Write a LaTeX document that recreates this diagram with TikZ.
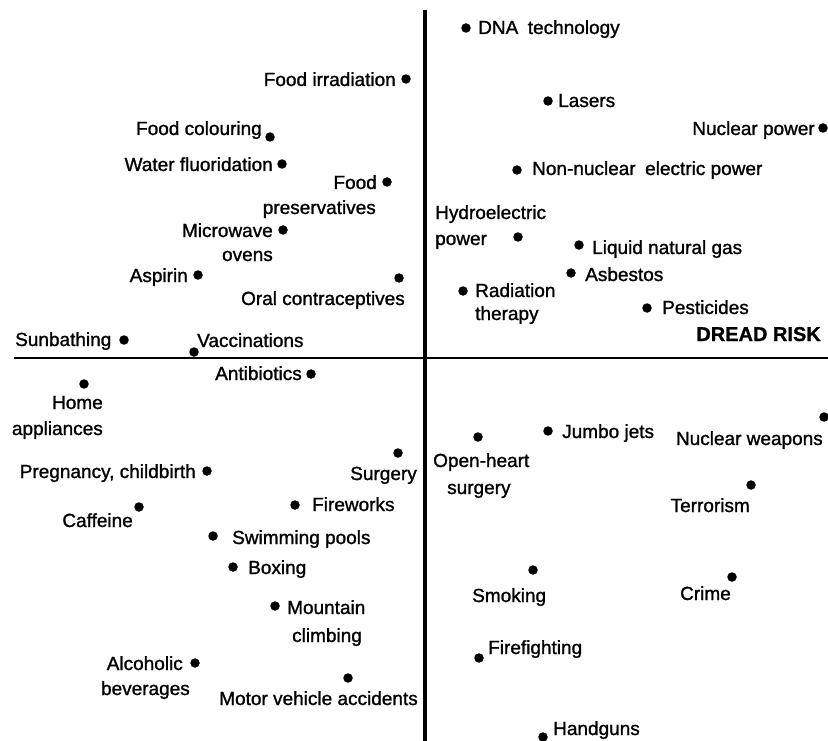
\documentclass[tikz,border=0pt]{standalone}
\usepackage{fontspec}
\setmainfont{Liberation Sans}
\newfontfamily\labfont[FakeBold=1.2]{Liberation Sans}
\newfontfamily\dreadfont[FakeBold=1.0]{Liberation Sans Bold}
\begin{document}
\begin{tikzpicture}[x=1pt,y=-1pt,
  dot/.style={circle,fill=black,inner sep=0pt,minimum size=9.5pt},
  lab/.style={inner sep=0pt,font=\labfont\fontsize{19}{22}\selectfont},
  lw/.style={lab,anchor=base west},
  le/.style={lab,anchor=base east},
  axis/.style={line width=3.2pt,black}]
\useasboundingbox[fill=white] (0,0) rectangle (828,741);
% axes
\coordinate (vtop) at (425,10);
\coordinate (vbot) at (425,741);
\coordinate (hl) at (14,358);
\coordinate (hr) at (828,358);
\draw[axis] (vtop) -- (vbot);
\draw[axis,line width=2.8pt] (hl) -- (hr);
% upper left
\node[dot] (fi) at (406,79) {};   \node[le] (fiL) at (396,86) {Food irradiation};
\node[dot] (fc) at (270,137) {};  \node[le] (fcL) at (262,135) {Food colouring};
\node[dot] (wf) at (282,164) {};  \node[le] (wfL) at (273,171) {Water fluoridation};
\node[dot] (fp) at (387,182) {};  \node[le] (fpL1) at (377,189) {Food};
                                  \node[le] (fpL2) at (376,214) {preservatives};
\node[dot] (mw) at (283,230) {};  \node[le] (mwL1) at (273,237) {Microwave};
                                  \node[le] (mwL2) at (273,261) {ovens};
\node[dot] (as) at (198,275) {};  \node[le] (asL) at (188,282) {Aspirin};
\node[dot] (oc) at (399,278) {};  \node[le] (ocL) at (405,305) {Oral contraceptives};
\node[dot] (sb) at (124,340) {};  \node[lw] (sbL) at (15,346) {Sunbathing};
\node[dot] (va) at (194,352) {};  \node[lw] (vaL) at (197,347) {Vaccinations};
% upper right
\node[dot] (dna) at (466,28) {};  \node[lw] (dnaL) at (478,34) {DNA\enspace technology};
\node[dot] (las) at (548,101) {}; \node[lw] (lasL) at (558,107) {Lasers};
\node[dot] (np) at (823,128) {};  \node[le] (npL) at (815,135) {Nuclear power};
\node[dot] (nne) at (517,170) {}; \node[lw] (nneL) at (532,175) {Non-nuclear\enspace electric power};
\node[dot] (hyd) at (518,237) {}; \node[lw] (hydL1) at (435,219) {Hydroelectric};
                                  \node[lw] (hydL2) at (435,245) {power};
\node[dot] (lng) at (579,245) {}; \node[lw] (lngL) at (592,254) {Liquid natural gas};
\node[dot] (asb) at (571,273) {}; \node[lw] (asbL) at (585,281) {Asbestos};
\node[dot] (rt) at (463,291) {};  \node[lw] (rtL1) at (475,297) {Radiation};
                                  \node[lw] (rtL2) at (475,320) {therapy};
\node[dot] (pes) at (647,308) {}; \node[lw] (pesL) at (662,314) {Pesticides};
\node[le,font=\dreadfont\fontsize{20}{23}\selectfont] (dread) at (821,341) {DREAD RISK};
% lower left
\node[dot] (ab) at (311,374) {};  \node[le] (abL) at (302,380) {Antibiotics};
\node[dot] (ha) at (84,384) {};   \node[le] (haL1) at (103,409) {Home};
                                  \node[le] (haL2) at (103,435) {appliances};
\node[dot] (pc) at (207,471) {};  \node[le] (pcL) at (196,478) {Pregnancy, childbirth};
\node[dot] (caf) at (139,507) {}; \node[le] (cafL) at (133,527) {Caffeine};
\node[dot] (sur) at (398,453) {}; \node[le] (surL) at (417,480) {Surgery};
\node[dot] (fw) at (295,505) {};  \node[lw] (fwL) at (312,511) {Fireworks};
\node[dot] (sp) at (213,536) {};  \node[lw] (spL) at (232,544) {Swimming pools};
\node[dot] (box) at (233,567) {}; \node[lw] (boxL) at (248,574) {Boxing};
\node[dot] (mc) at (275,606) {};  \node[lw] (mcL1) at (287,614) {Mountain};
                                  \node[lw] (mcL2) at (292,642) {climbing};
\node[dot] (al) at (195,663) {};  \node[le] (alL1) at (183,670) {Alcoholic};
                                  \node[le] (alL2) at (190,695) {beverages};
\node[dot] (mv) at (348,678) {};  \node[le] (mvL) at (418,705) {Motor vehicle accidents};
% lower right
\node[dot] (oh) at (478,437) {};  \node[lw] (ohL1) at (433,467) {Open-heart};
                                  \node[lw] (ohL2) at (447,494) {surgery};
\node[dot] (jj) at (548,431) {};  \node[lw] (jjL) at (562,438) {Jumbo jets};
\node[dot] (nw) at (824,417) {};  \node[le] (nwL) at (823,445) {Nuclear weapons};
\node[dot] (ter) at (751,485) {}; \node[le] (terL) at (750,512) {Terrorism};
\node[dot] (smk) at (533,570) {}; \node[lw] (smkL) at (472,602) {Smoking};
\node[dot] (cri) at (732,577) {}; \node[le] (criL) at (731,600) {Crime};
\node[dot] (ff) at (479,658) {};  \node[lw] (ffL) at (488,654) {Firefighting};
\node[dot] (hg) at (543,737) {};  \node[lw] (hgL) at (553,735) {Handguns};
\end{tikzpicture}
\end{document}
